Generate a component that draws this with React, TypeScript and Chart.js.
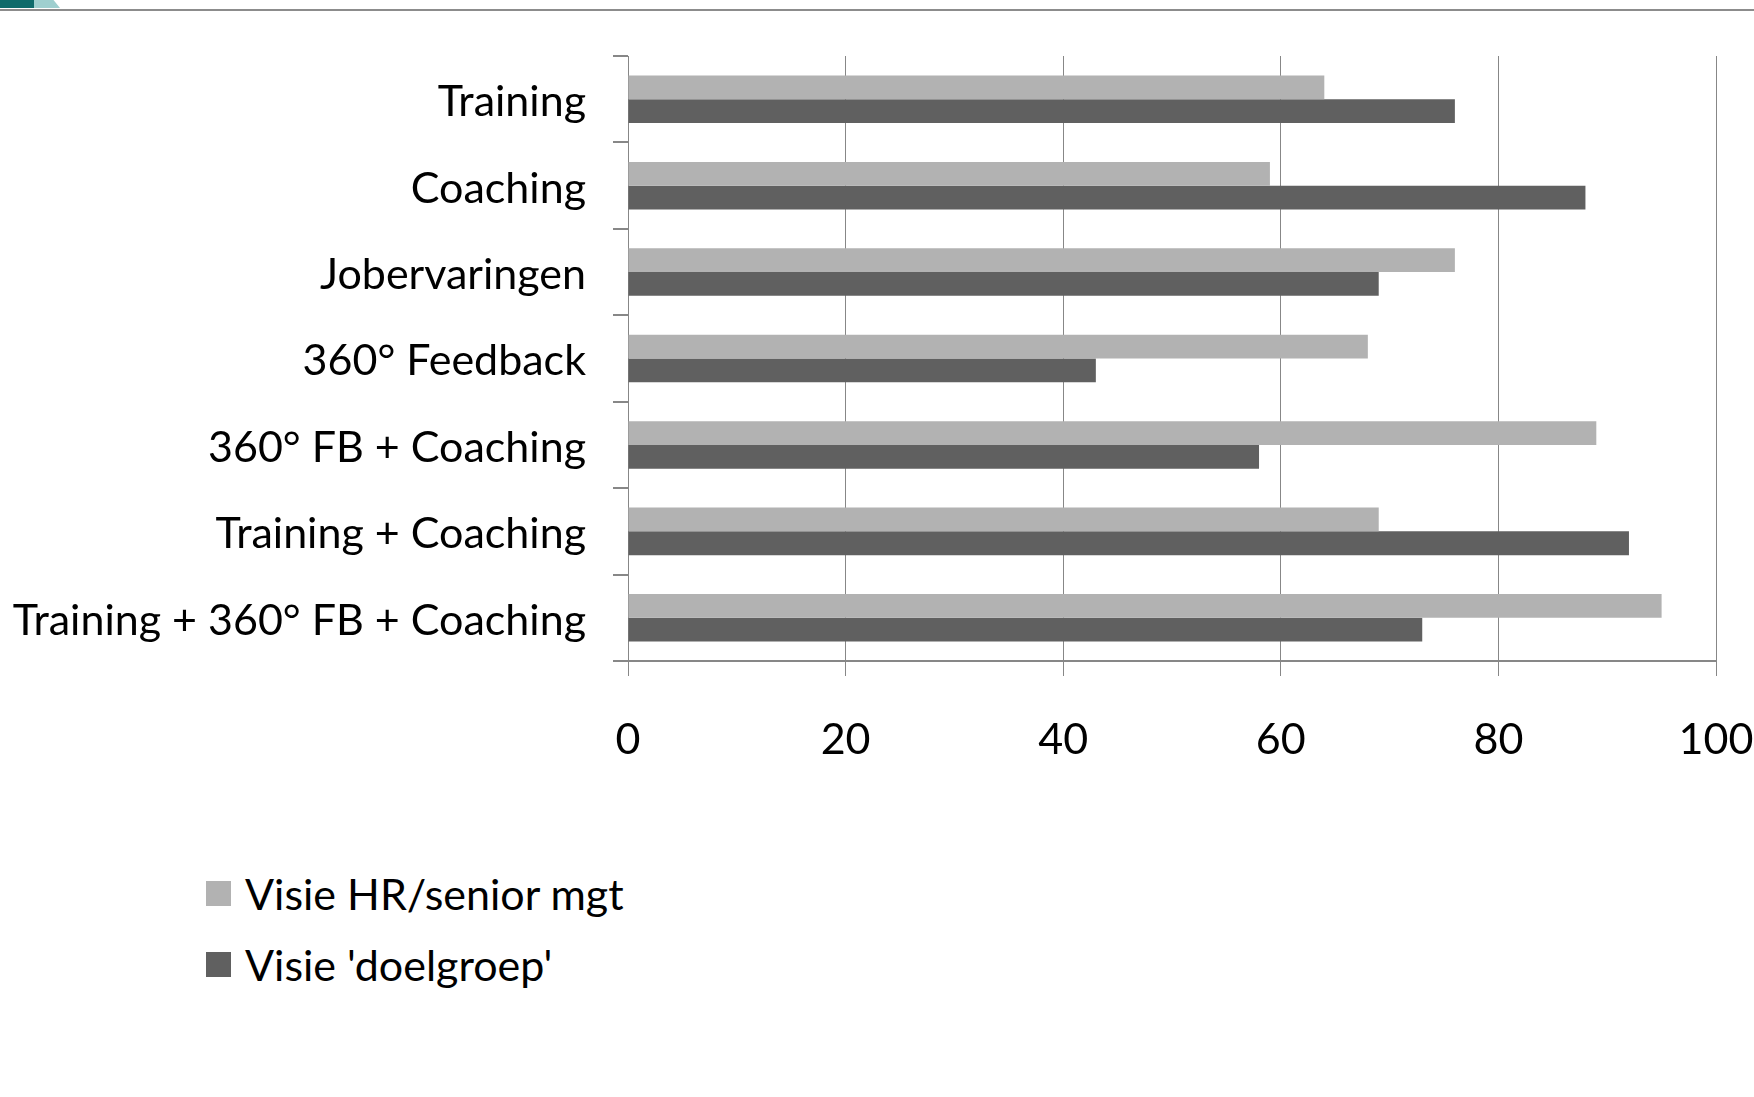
import React, { useEffect, useRef } from "react";
import { Chart, registerables } from "chart.js";

Chart.register(...registerables);

const categories = [
  "Training",
  "Coaching",
  "Jobervaringen",
  "360° Feedback",
  "360° FB + Coaching",
  "Training + Coaching",
  "Training + 360° FB + Coaching",
];
const seriesNames = ["Visie HR/senior mgt", "Visie 'doelgroep'"];
const hrValues = [64, 59, 76, 68, 89, 69, 95];
const doelgroepValues = [76, 88, 69, 43, 58, 92, 73];
const xTickValues = [0, 20, 40, 60, 80, 100];
const seriesColors = ["#B2B2B2", "#606060"];

const FONT = "Lato, 'Open Sans', sans-serif";
const FONT_SIZE = 43;

export default function App() {
  const ref = useRef<HTMLCanvasElement | null>(null);

  useEffect(() => {
    if (!ref.current) return;
    const zeroPad = (s: any) => {
      s.paddingLeft = 0;
      s.paddingRight = 0;
      s.paddingTop = 0;
      s.paddingBottom = 0;
    };
    const chart = new Chart(ref.current, {
      type: "bar",
      data: {
        labels: categories,
        datasets: [
          {
            label: seriesNames[0],
            data: hrValues,
            backgroundColor: seriesColors[0],
            categoryPercentage: 0.55,
            barPercentage: 1.0,
          },
          {
            label: seriesNames[1],
            data: doelgroepValues,
            backgroundColor: seriesColors[1],
            categoryPercentage: 0.55,
            barPercentage: 1.0,
          },
        ],
      },
      options: {
        indexAxis: "y",
        animation: false,
        responsive: false,
        maintainAspectRatio: false,
        layout: { padding: { left: 0, top: 56, right: 38, bottom: 0 } },
        plugins: {
          legend: { display: false },
          tooltip: { enabled: false },
        },
        scales: {
          x: {
            min: 0,
            max: 100,
            afterBuildTicks: (s: any) => {
              s.ticks = xTickValues.map((v) => ({ value: v }));
            },
            afterFit: (s: any) => {
              s.height = 139;
              zeroPad(s);
            },
            grid: {
              color: "#878787",
              lineWidth: 1,
              tickLength: 15,
              drawTicks: true,
            },
            border: { display: true, color: "#878787", width: 2 },
            ticks: {
              color: "#000",
              padding: 38,
              font: { family: FONT, size: FONT_SIZE },
              maxRotation: 0,
            },
          },
          y: {
            afterFit: (s: any) => {
              s.width = 628;
              zeroPad(s);
            },
            grid: {
              offset: true,
              drawOnChartArea: false,
              drawTicks: true,
              tickLength: 15,
              color: "#878787",
              lineWidth: 2,
            },
            border: { display: true, color: "#878787", width: 1 },
            ticks: {
              color: "#000",
              padding: 27,
              labelOffset: 3,
              font: { family: FONT, size: FONT_SIZE },
              autoSkip: false,
            },
          },
        },
      },
    });
    return () => chart.destroy();
  }, []);

  return (
    <div
      style={{
        position: "absolute",
        left: 0,
        top: 0,
        width: 1754,
        height: 1097,
        background: "#fff",
        overflow: "hidden",
        fontFamily: FONT,
      }}
    >
      <div style={{ position: "absolute", left: 0, top: 0, width: 34, height: 8, background: "#0E6B6B" }} />
      <div
        style={{
          position: "absolute",
          left: 34,
          top: 0,
          width: 26,
          height: 8,
          background: "#9FCFCF",
          clipPath: "polygon(0 0, 75% 0, 100% 100%, 0 100%)",
        }}
      />
      <div style={{ position: "absolute", left: 0, top: 9, width: 1754, height: 2, background: "#8C8C8C" }} />
      <canvas
        ref={ref}
        width={1754}
        height={800}
        style={{ position: "absolute", left: 0, top: 0, width: 1754, height: 800 }}
      />
      {seriesNames.map((name, i) => (
        <div
          key={name}
          style={{
            position: "absolute",
            left: 206,
            top: 893 + i * 71 - 30,
            height: 60,
            display: "flex",
            alignItems: "center",
            fontSize: FONT_SIZE,
            color: "#000",
            whiteSpace: "nowrap",
          }}
        >
          <span
            style={{
              display: "inline-block",
              width: 25,
              height: 25,
              background: seriesColors[i],
              marginRight: 14,
            }}
          />
          <span>{name}</span>
        </div>
      ))}
    </div>
  );
}
